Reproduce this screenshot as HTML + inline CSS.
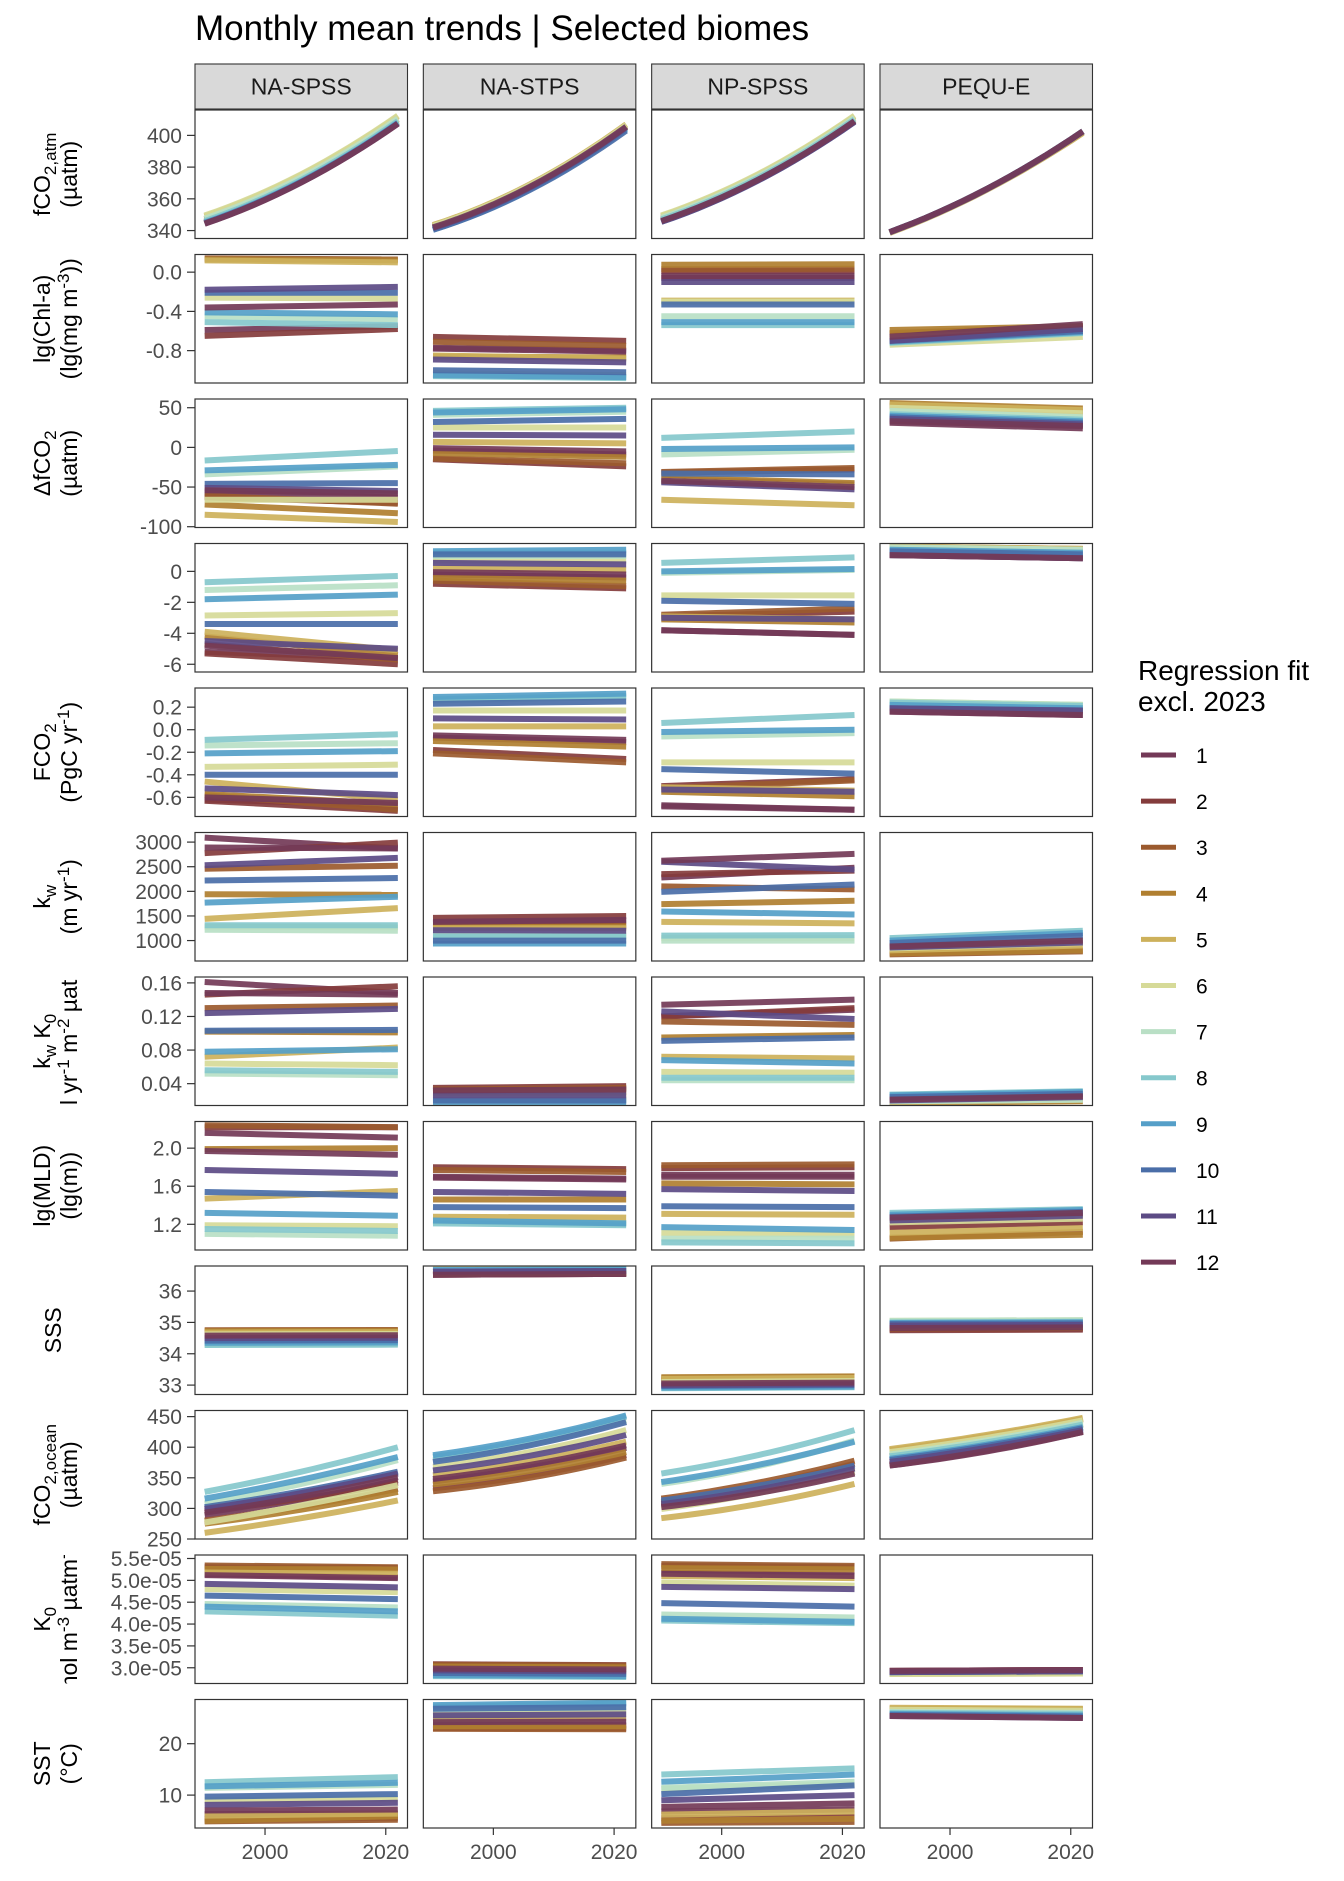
<!DOCTYPE html>
<html><head><meta charset="utf-8"><title>Monthly mean trends</title>
<style>
html,body{margin:0;padding:0;background:#fff;}
svg{display:block;font-family:"Liberation Sans",Arial,sans-serif;}
</style></head>
<body>
<svg id="chart" width="1344" height="1881" viewBox="0 0 1344 1881" xmlns="http://www.w3.org/2000/svg">
<rect x="0" y="0" width="1344" height="1881" fill="#fff"/>
<text x="195" y="40" font-size="35" fill="#000">Monthly mean trends | Selected biomes</text>
<g id="strips"></g>
<g id="panels"></g>
<g id="yaxes"></g>
<g id="ytitles" font-size="23" fill="#000">
  <defs>
    <clipPath id="tc0"><rect x="0" y="110" width="190" height="128.5"/></clipPath>
    <clipPath id="tc1"><rect x="0" y="254.5" width="190" height="128.5"/></clipPath>
    <clipPath id="tc2"><rect x="0" y="399" width="190" height="128.5"/></clipPath>
    <clipPath id="tc4"><rect x="0" y="688" width="190" height="128.5"/></clipPath>
    <clipPath id="tc5"><rect x="0" y="832.5" width="190" height="128.5"/></clipPath>
    <clipPath id="tc6"><rect x="0" y="979" width="190" height="124.5"/></clipPath>
    <clipPath id="tc7"><rect x="0" y="1121.5" width="190" height="128.5"/></clipPath>
    <clipPath id="tc8"><rect x="0" y="1266" width="190" height="128.5"/></clipPath>
    <clipPath id="tc9"><rect x="0" y="1410.5" width="190" height="128.5"/></clipPath>
    <clipPath id="tc10"><rect x="0" y="1555" width="190" height="128.5"/></clipPath>
    <clipPath id="tc11"><rect x="0" y="1699.5" width="190" height="128.5"/></clipPath>
  </defs>
  <g clip-path="url(#tc0)">
    <text transform="translate(50,174.25) rotate(-90)" text-anchor="middle">fCO<tspan dy="6" font-size="17">2,atm</tspan></text>
    <text transform="translate(77,174.25) rotate(-90)" text-anchor="middle">(µatm)</text>
  </g>
  <g clip-path="url(#tc1)">
    <text transform="translate(50,318.75) rotate(-90)" text-anchor="middle">lg(Chl-a)</text>
    <text transform="translate(77,318.75) rotate(-90)" text-anchor="middle">(lg(mg m<tspan dy="-8" font-size="17">-3</tspan><tspan dy="8">))</tspan></text>
  </g>
  <g clip-path="url(#tc2)">
    <text transform="translate(50,463.25) rotate(-90)" text-anchor="middle">ΔfCO<tspan dy="6" font-size="17">2</tspan></text>
    <text transform="translate(77,463.25) rotate(-90)" text-anchor="middle">(µatm)</text>
  </g>
  <g clip-path="url(#tc4)">
    <text transform="translate(50,752.25) rotate(-90)" text-anchor="middle">FCO<tspan dy="6" font-size="17">2</tspan></text>
    <text transform="translate(77,752.25) rotate(-90)" text-anchor="middle">(PgC yr<tspan dy="-8" font-size="17">-1</tspan><tspan dy="8">)</tspan></text>
  </g>
  <g clip-path="url(#tc5)">
    <text transform="translate(50,896.75) rotate(-90)" text-anchor="middle">k<tspan dy="6" font-size="17">w</tspan></text>
    <text transform="translate(77,896.75) rotate(-90)" text-anchor="middle">(m yr<tspan dy="-8" font-size="17">-1</tspan><tspan dy="8">)</tspan></text>
  </g>
  <g clip-path="url(#tc6)">
    <text transform="translate(50,1041.25) rotate(-90)" text-anchor="middle">k<tspan dy="6" font-size="17">w</tspan><tspan dy="-6"> K</tspan><tspan dy="6" font-size="17">0</tspan></text>
    <text transform="translate(77,1041.25) rotate(-90)" text-anchor="middle">(mol yr<tspan dy="-8" font-size="17">-1</tspan><tspan dy="8"> m</tspan><tspan dy="-8" font-size="17">-2</tspan><tspan dy="8"> µatm</tspan><tspan dy="-8" font-size="17">-1</tspan><tspan dy="8">)</tspan></text>
  </g>
  <g clip-path="url(#tc7)">
    <text transform="translate(50,1185.75) rotate(-90)" text-anchor="middle">lg(MLD)</text>
    <text transform="translate(77,1185.75) rotate(-90)" text-anchor="middle">(lg(m))</text>
  </g>
  <g clip-path="url(#tc8)">
    <text transform="translate(61,1330.25) rotate(-90)" text-anchor="middle">SSS</text>
  </g>
  <g clip-path="url(#tc9)">
    <text transform="translate(50,1474.75) rotate(-90)" text-anchor="middle">fCO<tspan dy="6" font-size="17">2,ocean</tspan></text>
    <text transform="translate(77,1474.75) rotate(-90)" text-anchor="middle">(µatm)</text>
  </g>
  <g clip-path="url(#tc10)">
    <text transform="translate(50,1619.25) rotate(-90)" text-anchor="middle">K<tspan dy="6" font-size="17">0</tspan></text>
    <text transform="translate(77,1619.25) rotate(-90)" text-anchor="middle">(mol m<tspan dy="-8" font-size="17">-3</tspan><tspan dy="8"> µatm</tspan><tspan dy="-8" font-size="17">-1</tspan><tspan dy="8">)</tspan></text>
  </g>
  <g clip-path="url(#tc11)">
    <text transform="translate(50,1763.75) rotate(-90)" text-anchor="middle">SST</text>
    <text transform="translate(77,1763.75) rotate(-90)" text-anchor="middle">(°C)</text>
  </g>
</g>
<g id="xaxis"></g>
<g id="legend">
  <text x="1138" y="680" font-size="28" fill="#000">Regression fit</text>
  <text x="1138" y="711" font-size="28" fill="#000">excl. 2023</text>
</g>
</svg>
<script>
const NS = "http://www.w3.org/2000/svg";
const biomes = ["NA-SPSS","NA-STPS","NP-SPSS","PEQU-E"];
const months = ["1","2","3","4","5","6","7","8","9","10","11","12"];
const monthColors = ["#733957","#843c3c","#9b5a2e","#b07f30","#cdb15b","#d6da98","#b9dfc5","#86c8cc","#559fc8","#4a6ea8","#5c4b85","#733957"];
const yearStart = 1990, yearMid = 2006, yearEnd = 2022;

// fCO2,atm (curved: start, mid, end)
const atmStart = [[344.5,344.8,345.5,347,349,349.5,347.5,346,345,344.5,344.5,344.3],[342,342,342.5,343,343.5,343,342,341,340.5,340.5,341.5,342],[346,346.5,347,348,349,349.5,348,347,346,345.5,345.5,346],[339,339,339,338.8,338.5,339,339,339,339,339,339,339]];
const atmMid = [[370.5,370.8,371.5,373,375,375.5,373.5,372,371,370.5,370.5,370.3],[367.5,367.5,368,368.5,369,368.5,367.5,366.5,366,365.5,367,367.5],[372,372.5,373,374,375,375.5,374,373,372,371.5,371.5,372],[366,366,366,365.8,365.5,366,366,366,366,366,366,366]];
const atmEnd = [[407.5,407.8,408.5,410,412,412.5,410.5,409,408,407.5,407.5,407.3],[405.5,405.5,406,406.5,407,406.5,405.5,404.5,404,403,405,405.5],[409,409.5,410,411,412,412.5,411,410,409,408.5,408.5,409],[402.5,402.5,402.5,402,401.5,402.5,402.5,402.5,402.5,402.5,402.5,402.5]];
// lg(Chl-a)
const chlStart = [[-0.59,-0.65,0.14,0.13,0.12,-0.26,-0.45,-0.51,-0.41,-0.21,-0.18,-0.36],[-0.77,-0.66,-0.71,-0.86,-0.85,-1.03,-1.05,-1.06,-1.05,-1.00,-0.89,-0.78],[-0.06,0.01,0.03,0.075,-0.29,-0.30,-0.45,-0.54,-0.51,-0.33,-0.10,-0.04],[-0.68,-0.63,-0.62,-0.59,-0.66,-0.74,-0.72,-0.72,-0.71,-0.70,-0.70,-0.66]];
const chlEnd = [[-0.55,-0.58,0.13,0.12,0.10,-0.27,-0.48,-0.54,-0.43,-0.21,-0.15,-0.33],[-0.80,-0.70,-0.75,-0.87,-0.88,-1.05,-1.07,-1.08,-1.07,-1.02,-0.92,-0.81],[-0.06,0.01,0.035,0.08,-0.29,-0.30,-0.45,-0.54,-0.51,-0.33,-0.10,-0.04],[-0.55,-0.55,-0.56,-0.55,-0.60,-0.66,-0.62,-0.62,-0.61,-0.60,-0.58,-0.53]];
// delta fCO2
const dfStart = [[-57,-63,-61,-72,-85,-66,-34,-16.5,-29,-46,-51,-54],[-4,-15,-14,-7,7,25,41,46,44,32,16,-1],[-40,-32,-31,-38,-66,-42,-9,12,-2,-33,-44,-42],[31,35,52,56,54,50,46,42,40,38,36,33]];
const dfEnd = [[-63,-70,-71,-83,-94,-66,-24,-4.6,-22,-45,-55,-58],[-9,-24,-20,-12,5,25,45,50,48,36,15,-5],[-47,-28,-26,-45,-73,-50,-3,20,0,-34,-53,-50],[24,28,44,49,47,43,38,35,33,31,29,27]];
// unlabeled row 4
const r4Start = [[-5.2,-5.3,-4.7,-4.2,-3.9,-2.85,-1.2,-0.7,-1.8,-3.4,-4.5,-4.8],[-0.2,-0.8,-0.6,-0.4,0.2,0.7,1.0,1.2,1.3,1.1,0.55,-0.05],[-3.8,-2.9,-2.8,-3.1,-2.9,-1.55,-0.1,0.55,0.0,-1.9,-3.0,-3.8],[1.05,1.1,1.1,1.6,1.6,1.55,1.55,1.4,1.4,1.3,1.05,1.05]];
const r4End = [[-5.6,-6.0,-5.7,-5.4,-5.1,-2.7,-0.9,-0.3,-1.5,-3.4,-5.0,-5.6],[-0.4,-1.1,-0.95,-0.6,0.1,0.7,1.0,1.2,1.4,1.1,0.45,-0.2],[-4.1,-2.6,-2.4,-3.3,-3.1,-1.55,0.1,0.9,0.15,-2.1,-3.1,-4.1],[0.85,0.95,0.95,1.45,1.45,1.4,1.4,1.2,1.2,1.1,0.85,0.85]];
// FCO2
const fluxStart = [[-0.62,-0.63,-0.58,-0.57,-0.46,-0.33,-0.14,-0.09,-0.21,-0.40,-0.52,-0.60],[-0.07,-0.18,-0.21,-0.10,0.03,0.17,0.26,0.27,0.29,0.23,0.10,-0.05],[-0.67,-0.50,-0.52,-0.55,-0.51,-0.29,-0.06,0.06,-0.02,-0.35,-0.53,-0.68],[0.16,0.2,0.2,0.2,0.2,0.25,0.25,0.24,0.22,0.19,0.19,0.16]];
const fluxEnd = [[-0.67,-0.72,-0.71,-0.66,-0.62,-0.31,-0.12,-0.04,-0.19,-0.40,-0.58,-0.65],[-0.11,-0.26,-0.29,-0.15,0.03,0.17,0.29,0.30,0.32,0.25,0.09,-0.09],[-0.71,-0.44,-0.45,-0.59,-0.54,-0.29,-0.03,0.13,0.0,-0.39,-0.55,-0.71],[0.13,0.17,0.17,0.17,0.17,0.22,0.22,0.21,0.19,0.17,0.17,0.13]];
// kw
const kwStart = [[3090,2775,2460,1940,1440,1280,1220,1310,1770,2220,2530,2890],[1350,1460,1300,1270,1250,1080,1110,1080,940,1000,1210,1380],[2280,2350,2100,1740,1380,1050,1000,1100,1590,1990,2600,2620],[900,790,720,740,800,840,860,1050,1000,950,860,880]];
const kwEnd = [[2870,2990,2520,1930,1660,1270,1200,1310,1890,2270,2680,2870],[1400,1500,1300,1280,1250,1080,1100,1080,940,1000,1200,1420],[2480,2420,2040,1810,1350,1050,1000,1110,1530,2140,2440,2760],[1000,950,780,800,900,950,1000,1200,1155,1100,960,1000]];
// kw K0
const kwk0Start = [[0.161,0.146,0.130,0.102,0.072,0.064,0.052,0.056,0.078,0.103,0.124,0.148],[0.031,0.035,0.033,0.029,0.024,0.022,0.021,0.020,0.018,0.020,0.026,0.032],[0.120,0.120,0.114,0.095,0.072,0.054,0.044,0.047,0.068,0.091,0.126,0.134],[0.022,0.020,0.020,0.017,0.018,0.019,0.019,0.027,0.026,0.024,0.020,0.021]];
const kwk0End = [[0.148,0.156,0.133,0.101,0.083,0.062,0.050,0.054,0.081,0.104,0.129,0.146],[0.034,0.037,0.035,0.030,0.025,0.022,0.021,0.020,0.018,0.020,0.026,0.033],[0.128,0.130,0.110,0.098,0.070,0.053,0.044,0.047,0.064,0.095,0.117,0.140],[0.026,0.022,0.022,0.019,0.021,0.021,0.021,0.031,0.030,0.028,0.024,0.025]];
// lg(MLD)
const mldStart = [[2.16,2.22,2.24,1.99,1.47,1.19,1.10,1.15,1.32,1.54,1.77,1.97],[1.69,1.80,1.77,1.46,1.28,1.23,1.23,1.21,1.24,1.38,1.54,1.70],[1.70,1.79,1.82,1.63,1.31,1.11,1.05,1.01,1.17,1.39,1.57,1.72],[1.26,1.17,1.05,1.06,1.11,1.22,1.29,1.32,1.30,1.28,1.24,1.27]];
const mldEnd = [[2.11,2.22,2.22,2.00,1.55,1.18,1.08,1.13,1.29,1.50,1.73,1.93],[1.67,1.78,1.75,1.46,1.27,1.21,1.21,1.19,1.21,1.37,1.52,1.68],[1.70,1.80,1.83,1.62,1.30,1.09,1.05,1.00,1.14,1.38,1.55,1.72],[1.31,1.22,1.12,1.09,1.16,1.26,1.33,1.36,1.35,1.33,1.29,1.32]];
// SSS
const sssStart = [[34.62,34.68,34.75,34.72,34.68,34.62,34.3,34.28,34.35,34.42,34.5,34.58],[36.52,36.52,36.55,36.55,36.72,36.7,36.67,36.67,36.67,36.62,36.62,36.52],[33.1,33.15,33.22,33.25,33.2,33.1,33.0,32.9,32.92,32.97,33.0,33.05],[34.78,34.75,34.8,34.85,35.0,35.05,35.05,35.0,34.98,34.95,34.9,34.82]];
const sssEnd = [[34.63,34.69,34.76,34.73,34.69,34.63,34.31,34.29,34.36,34.43,34.51,34.59],[36.55,36.55,36.58,36.58,36.74,36.72,36.69,36.69,36.69,36.64,36.64,36.55],[33.13,33.18,33.25,33.28,33.23,33.13,33.03,32.93,32.95,33.0,33.03,33.08],[34.8,34.77,34.82,34.87,35.02,35.07,35.07,35.02,35.0,34.97,34.92,34.84]];
// fCO2,ocean (curved)
const ocnStart = [[289,296,280,275,260,277,308,327,316,302,299,293],[344,333,328,339,354,368,379,384,387,376,362,348],[304,310,316,307,284,299,340,357,343,313,307,302],[370,372,385,395,397,392,388,385,381,379,376,370]];
const ocnMid = [[314,316,303,298,284,305,340,360,347,328,325,319],[367,354,350,361,377,392,405,411,414,403,386,371],[327,337,342,332,307,325,369,387,371,337,331,325],[393,396,408,418,420,415,411,408,404,402,399,394]];
const ocnEnd = [[346,342,332,327,313,338,379,400,384,360,357,351],[399,387,383,392,409,428,444,450,452,441,420,403],[360,373,378,366,340,360,411,428,409,370,365,357],[425,426,437,446,448,444,440,437,433,431,428,425]];
// K0 (x 1e-5)
const k0Start = [[5.14,5.30,5.34,5.26,5.18,4.80,4.46,4.29,4.40,4.65,4.92,5.12],[3.00,3.08,3.07,3.03,2.97,2.91,2.86,2.81,2.83,2.88,2.94,2.98],[5.18,5.33,5.37,5.28,5.10,4.95,4.22,4.08,4.12,4.48,4.85,5.15],[2.93,2.93,2.91,2.91,2.86,2.86,2.9,2.9,2.9,2.9,2.9,2.93]];
const k0End = [[5.07,5.28,5.30,5.25,5.15,4.73,4.38,4.19,4.29,4.57,4.84,5.05],[2.98,3.06,3.05,3.01,2.95,2.89,2.84,2.79,2.81,2.86,2.92,2.96],[5.12,5.30,5.33,5.25,5.05,4.88,4.15,4.02,4.05,4.40,4.80,5.10],[2.95,2.95,2.93,2.93,2.87,2.87,2.92,2.92,2.92,2.92,2.92,2.95]];
// SST
const sstStart = [[6.3,5.4,4.9,5.0,6.0,9.0,11.4,12.5,11.7,9.7,8.1,7.0],[23.7,23.0,22.9,23.4,24.7,25.8,26.7,27.2,27.5,26.8,25.5,24.2],[6.8,5.5,4.6,5.0,6.2,11.2,11.4,14.0,12.6,10.2,9.0,7.7],[25.6,26.0,26.5,26.8,27.0,26.6,26.2,26.0,25.8,25.6,25.4,25.4]];
const sstEnd = [[6.4,5.6,5.2,5.9,6.4,9.3,12.0,13.5,12.4,10.2,8.5,7.2],[23.6,23.0,22.8,23.4,24.9,26.2,27.1,27.8,28.0,27.1,25.7,24.3],[7.2,5.8,4.8,5.4,6.8,12.2,12.6,15.2,14.0,11.9,10.0,8.4],[25.3,25.8,26.3,26.7,26.8,26.4,26.0,25.8,25.5,25.3,25.0,25.0]];

// axis ticks
const atmTicks = [340,360,380,400];
const chlTicks = [-0.8,-0.4,0.0];
const chlTickLabels = ["-0.8","-0.4","0.0"];
const dfTicks = [-100,-50,0,50];
const r4Ticks = [-6,-4,-2,0];
const fluxTicks = [-0.6,-0.4,-0.2,0.0,0.2];
const fluxTickLabels = ["-0.6","-0.4","-0.2","0.0","0.2"];
const kwTicks = [1000,1500,2000,2500,3000];
const kwk0Ticks = [0.04,0.08,0.12,0.16];
const mldTicks = [1.2,1.6,2.0];
const mldTickLabels = ["1.2","1.6","2.0"];
const sssTicks = [33,34,35,36];
const ocnTicks = [250,300,350,400,450];
const k0Ticks = [3.0,3.5,4.0,4.5,5.0,5.5];
const k0TickLabels = ["3.0e-05","3.5e-05","4.0e-05","4.5e-05","5.0e-05","5.5e-05"];
const sstTicks = [10,20];
const xTicks = [2000,2020];

const rows = [
  {key:"fco2-atm", dom:[335,416], s:atmStart, m:atmMid, e:atmEnd, ticks:atmTicks},
  {key:"chl", dom:[-1.13,0.18], s:chlStart, e:chlEnd, ticks:chlTicks, labels:chlTickLabels},
  {key:"delta-fco2", dom:[-101,61], s:dfStart, e:dfEnd, ticks:dfTicks},
  {key:"row4", dom:[-6.5,1.8], s:r4Start, e:r4End, ticks:r4Ticks},
  {key:"fco2-flux", dom:[-0.77,0.37], s:fluxStart, e:fluxEnd, ticks:fluxTicks, labels:fluxTickLabels},
  {key:"kw", dom:[585,3195], s:kwStart, e:kwEnd, ticks:kwTicks},
  {key:"kw-k0", dom:[0.014,0.167], s:kwk0Start, e:kwk0End, ticks:kwk0Ticks},
  {key:"mld", dom:[0.93,2.28], s:mldStart, e:mldEnd, ticks:mldTicks, labels:mldTickLabels},
  {key:"sss", dom:[32.7,36.8], s:sssStart, e:sssEnd, ticks:sssTicks},
  {key:"fco2-ocean", dom:[250,460], s:ocnStart, m:ocnMid, e:ocnEnd, ticks:ocnTicks},
  {key:"k0", dom:[2.64,5.58], s:k0Start, e:k0End, ticks:k0Ticks, labels:k0TickLabels},
  {key:"sst", dom:[3.6,28.6], s:sstStart, e:sstEnd, ticks:sstTicks}
];

const PL = 195, PW = 212.5, CSTEP = 228.33, PT = 110, PH = 128.5, RSTEP = 144.5;
const X0 = 1988.4, X1 = 2023.6;
function colX(c){ return PL + c*CSTEP; }
function rowY(r){ return PT + r*RSTEP; }
function sx(c, yr){ return colX(c) + (yr - X0)/(X1 - X0)*PW; }
function sy(r, v){ const d = rows[r].dom; return rowY(r) + (d[1]-v)/(d[1]-d[0])*PH; }
function mk(tag, attrs, parent){ const el = document.createElementNS(NS, tag); for (const k in attrs) el.setAttribute(k, attrs[k]); if(parent) parent.appendChild(el); return el; }

const svg = document.getElementById("chart");
const strips = document.getElementById("strips");
const panels = document.getElementById("panels");
const yaxes = document.getElementById("yaxes");
const xaxis = document.getElementById("xaxis");
const defs = mk("defs", {}, svg);

// strips
biomes.forEach((b, c) => {
  const g = mk("g", {}, strips);
  
  
  mk("rect", {x:colX(c), y:64, width:PW, height:45, fill:"#d9d9d9", stroke:"#333", "stroke-width":1.1}, g);
  const t = mk("text", {x:colX(c)+PW/2, y:94.5, "text-anchor":"middle", "font-size":23, fill:"#1a1a1a"}, g);
  t.textContent = b;
});

// panels
rows.forEach((row, r) => {
  for (let c = 0; c < 4; c++) {
    const g = mk("g", {}, panels);
    
    
    const cid = "clip-" + r + "-" + c;
    const cp = mk("clipPath", {id:cid}, defs);
    mk("rect", {x:colX(c), y:rowY(r), width:PW, height:PH}, cp);
    const lg = mk("g", {"clip-path":"url(#"+cid+")"}, g);
    for (let m = 0; m < 12; m++) {
      const s = row.s[c][m], e = row.e[c][m];
      let d;
      if (row.m) {
        const mid = row.m[c][m];
        const pts = [];
        for (let i = 0; i <= 16; i++) {
          const t = yearStart + (yearEnd - yearStart)*i/16;
          const u = (t - yearStart)/(yearEnd - yearStart);
          const v = s*(1-u)*(1-2*u) + mid*4*u*(1-u) + e*u*(2*u-1);
          pts.push(sx(c,t).toFixed(2) + "," + sy(r,v).toFixed(2));
        }
        d = "M" + pts.join("L");
      } else {
        d = "M" + sx(c,yearStart).toFixed(2) + "," + sy(r,s).toFixed(2) + "L" + sx(c,yearEnd).toFixed(2) + "," + sy(r,e).toFixed(2);
      }
      const p = mk("path", {d:d, fill:"none", stroke:monthColors[m], "stroke-width":6, "stroke-opacity":0.92}, lg);
      
      
    }
    mk("rect", {x:colX(c), y:rowY(r), width:PW, height:PH, fill:"none", stroke:"#333", "stroke-width":1.2}, g);
  }
  const ya = mk("g", {}, yaxes);
  
  
  row.ticks.forEach((tv, i) => {
    const y = sy(r, tv);
    mk("line", {x1:187, x2:195, y1:y, y2:y, stroke:"#333", "stroke-width":1.2}, ya);
    const t = mk("text", {x:182, y:y+7.5, "text-anchor":"end", "font-size":21, fill:"#4d4d4d"}, ya);
    t.textContent = row.labels ? row.labels[i] : String(tv);
  });
});

// x axis
for (let c = 0; c < 4; c++) {
  const g = mk("g", {}, xaxis);
  
  
  const yb = rowY(11) + PH;
  xTicks.forEach(tv => {
    const x = sx(c, tv);
    mk("line", {x1:x, x2:x, y1:yb, y2:yb+7, stroke:"#333", "stroke-width":1.2}, g);
    const t = mk("text", {x:x, y:yb+31, "text-anchor":"middle", "font-size":21, fill:"#4d4d4d"}, g);
    t.textContent = String(tv);
  });
}

// legend
const legend = document.getElementById("legend");
months.forEach((mo, i) => {
  const g = mk("g", {}, legend);
  
  
  const y = 755 + i*46.1;
  mk("line", {x1:1141, x2:1176, y1:y, y2:y, stroke:monthColors[i], "stroke-width":5}, g);
  const t = mk("text", {x:1196, y:y+8, "font-size":21, fill:"#000"}, g);
  t.textContent = mo;
});
</script>
</body></html>
